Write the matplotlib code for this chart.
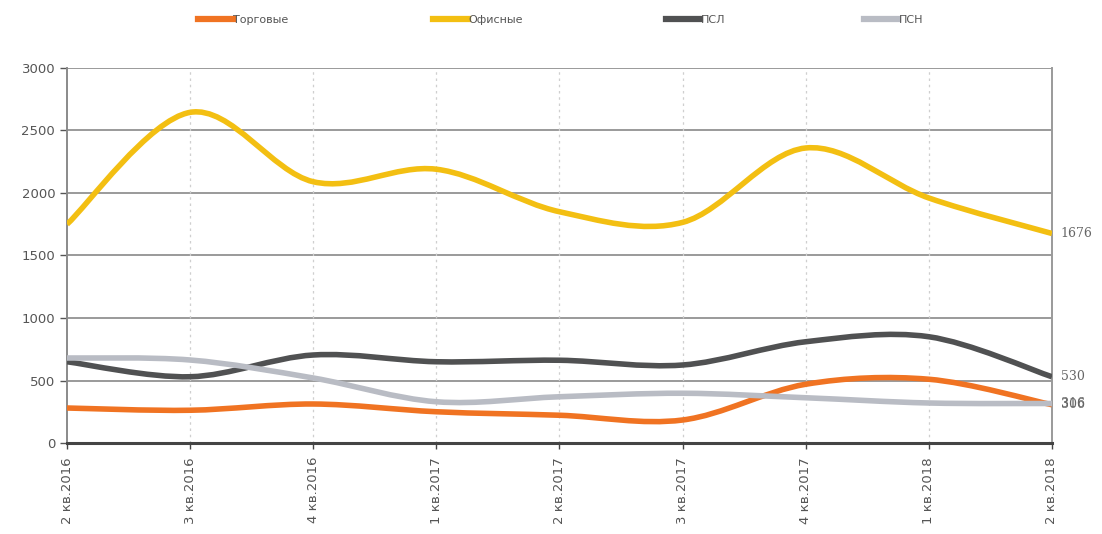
import matplotlib
matplotlib.use("Agg")
import matplotlib.pyplot as plt
import numpy as np
from matplotlib.path import Path
from matplotlib.patches import PathPatch
from matplotlib.lines import Line2D

quarters = ["2 кв.2016", "3 кв.2016", "4 кв.2016", "1 кв.2017", "2 кв.2017",
            "3 кв.2017", "4 кв.2017", "1 кв.2018", "2 кв.2018"]
trade = [280, 262, 312, 250, 222, 184, 470, 510, 306]
office = [1750, 2645, 2090, 2190, 1850, 1765, 2360, 1960, 1676]
psl = [650, 530, 704, 650, 662, 624, 810, 850, 530]
psn = [680, 664, 520, 330, 370, 398, 362, 320, 316]

series = [
    ("Торговые", trade, "#f07322"),
    ("Офисные", office, "#f3bf12"),
    ("ПСЛ", psl, "#505152"),
    ("ПСН", psn, "#b9bcc4"),
]
end_labels = [("1676", 1676), ("530", 530), ("306", 306), ("316", 316)]
# legend entry left edges (figure fraction)
legend_x = [0.180, 0.393, 0.604, 0.784]


def smooth_path(ys):
    # Excel-style smoothed line: cubic Bezier through every point
    pts = np.column_stack([np.arange(len(ys)), np.asarray(ys, float)])
    ext = np.vstack([pts[0], pts, pts[-1]])
    verts = [pts[0]]
    codes = [Path.MOVETO]
    for i in range(len(pts) - 1):
        p0, p1, p2, p3 = ext[i], ext[i + 1], ext[i + 2], ext[i + 3]
        c1 = p1 + (p2 - p0) / 6.0
        c2 = p2 - (p3 - p1) / 6.0
        verts += [c1, c2, p2]
        codes += [Path.CURVE4] * 3
    return Path(verts, codes)


fig = plt.figure(figsize=(11.02, 5.34), dpi=100)
ax = fig.add_axes([0.0608, 0.1704, 0.8938, 0.7023])

ax.set_xlim(0, len(quarters) - 1)
ax.set_ylim(0, 3000)
ax.set_yticks(range(0, 3001, 500))
ax.set_xticks(range(len(quarters)))
ax.set_xticklabels(quarters, rotation=90, fontsize=9.5, color="#555555")
ax.tick_params(axis="y", labelsize=9.5, colors="#555555", length=5, width=1)
ax.tick_params(axis="x", length=4, width=1, color="#444444", pad=6)

for yv in range(500, 3001, 500):
    ax.axhline(yv, color="#9a9a9a", lw=1.4, zorder=1)
for xv in range(1, len(quarters) - 1):
    ax.axvline(xv, color="#cfcfcf", lw=0.9, ls=(0, (2, 3)), zorder=1)

ax.spines["top"].set_visible(False)
ax.spines["left"].set_color("#8a8a8a")
ax.spines["left"].set_linewidth(1.4)
ax.spines["right"].set_color("#9a9a9a")
ax.spines["right"].set_linewidth(1.4)
ax.spines["bottom"].set_color("#444444")
ax.spines["bottom"].set_linewidth(2.2)

for (name, vals, color), lx in zip(series, legend_x):
    patch = PathPatch(smooth_path(vals), facecolor="none", edgecolor=color,
                      lw=4, capstyle="butt", joinstyle="round", zorder=3)
    ax.add_patch(patch)
    fig.legend([Line2D([], [], color=color, lw=4.5)], [name],
               loc="center left", bbox_to_anchor=(lx, 0.962), frameon=False,
               fontsize=8, handlelength=3.1, handletextpad=0.05,
               labelcolor="#555555", borderaxespad=0, borderpad=0)

for txt, yv in end_labels:
    ax.text(len(quarters) - 1 + 0.07, yv, txt, fontsize=9, color="#666666",
            family="DejaVu Serif", va="center", ha="left", clip_on=False)

fig.savefig("out.png", dpi=100)
